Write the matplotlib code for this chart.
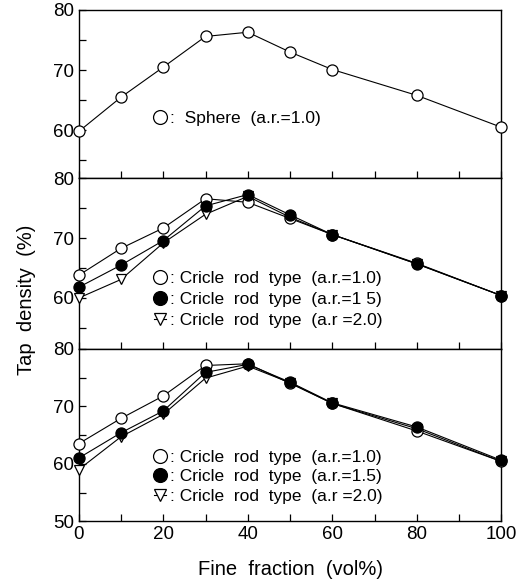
import numpy as np
import matplotlib
matplotlib.use("Agg")
import matplotlib.pyplot as plt
from matplotlib.ticker import MultipleLocator

plt.rcParams["font.family"] = ["Liberation Sans", "DejaVu Sans"]

# ---- data ----
fine = [0, 10, 20, 30, 40, 50, 60, 80, 100]

sphere_10 = [59.8, 65.5, 70.5, 75.6, 76.3, 73.0, 70.1, 65.8, 60.5]

mid_10 = [63.8, 68.3, 71.7, 76.6, 76.0, 73.3, 70.6, 65.8, 60.4]
mid_15 = [61.8, 65.5, 69.6, 75.4, 77.3, 73.9, 70.6, 65.7, 60.4]
mid_20 = [60.0, 63.1, 69.2, 74.0, 77.0, 73.5, 70.6, 65.7, 60.4]

bot_10 = [63.5, 67.9, 71.8, 77.1, 77.4, 74.0, 70.5, 65.7, 60.4]
bot_15 = [61.0, 65.4, 69.2, 75.9, 77.3, 74.2, 70.6, 66.4, 60.6]
bot_20 = [59.0, 64.7, 68.6, 74.9, 77.0, 74.1, 70.5, 66.1, 60.4]

mid_labels = [": Cricle  rod  type  (a.r.=1.0)",
              ": Cricle  rod  type  (a.r.=1 5)",
              ": Cricle  rod  type  (a.r =2.0)"]
bot_labels = [": Cricle  rod  type  (a.r.=1.0)",
              ": Cricle  rod  type  (a.r.=1.5)",
              ": Cricle  rod  type  (a.r =2.0)"]

# open circle, filled circle, open triangle; filled drawn on top
styles = [dict(marker="o", mfc="white", ms=8, zorder=4),
          dict(marker="o", mfc="black", ms=8, zorder=5),
          dict(marker="v", mfc="white", ms=7, zorder=3)]

fig = plt.figure(figsize=(5.25, 5.87), dpi=100)
gs = fig.add_gridspec(3, 1, height_ratios=[168, 170, 172], hspace=0,
                      left=0.150, right=0.955, top=0.983, bottom=0.112)
axes = [fig.add_subplot(gs[i]) for i in range(3)]
ylims = [(52, 80), (51.5, 80), (50, 80)]


def style(ax, ylim, last):
    ax.set_xlim(0, 100)
    ax.set_ylim(*ylim)
    ax.xaxis.set_major_locator(MultipleLocator(20))
    ax.xaxis.set_minor_locator(MultipleLocator(10))
    ax.yaxis.set_major_locator(MultipleLocator(10))
    ax.yaxis.set_minor_locator(MultipleLocator(5))
    ax.tick_params(which="both", direction="in", length=5, width=0.9,
                   labelsize=13.5, top=False, right=False)
    if not last:
        ax.tick_params(axis="x", labelbottom=False)
    for s in ax.spines.values():
        s.set_linewidth(1.0)


def series(ax, y, st, label):
    ax.plot(fine, y, color="black", lw=0.8, mec="black", mew=0.9,
            label=label, clip_on=False, **st)


leg_kw = dict(frameon=False, handlelength=0.7, handletextpad=0.2,
              fontsize=12.5, markerscale=1.25, borderpad=0)

# top panel: sphere
ax = axes[0]
series(ax, sphere_10, styles[0], ":  Sphere  (a.r.=1.0)")
style(ax, ylims[0], False)
ax.legend(loc="center left", bbox_to_anchor=(0.158, 0.355), **leg_kw)

# middle panel
ax = axes[1]
for y, st, lab in zip([mid_10, mid_15, mid_20], styles, mid_labels):
    series(ax, y, st, lab)
style(ax, ylims[1], False)
ax.legend(loc="upper left", bbox_to_anchor=(0.158, 0.51), labelspacing=0.35,
          **leg_kw)

# bottom panel
ax = axes[2]
for y, st, lab in zip([bot_10, bot_15, bot_20], styles, bot_labels):
    series(ax, y, st, lab)
style(ax, ylims[2], True)
ax.legend(loc="upper left", bbox_to_anchor=(0.158, 0.465), labelspacing=0.25,
          **leg_kw)
ax.set_xlabel("Fine  fraction  (vol%)", fontsize=14.5, labelpad=12)

fig.text(0.05, 0.49, "Tap  density  (%)", rotation=90, fontsize=14.5,
         ha="center", va="center")

fig.savefig("out.png", dpi=100)
